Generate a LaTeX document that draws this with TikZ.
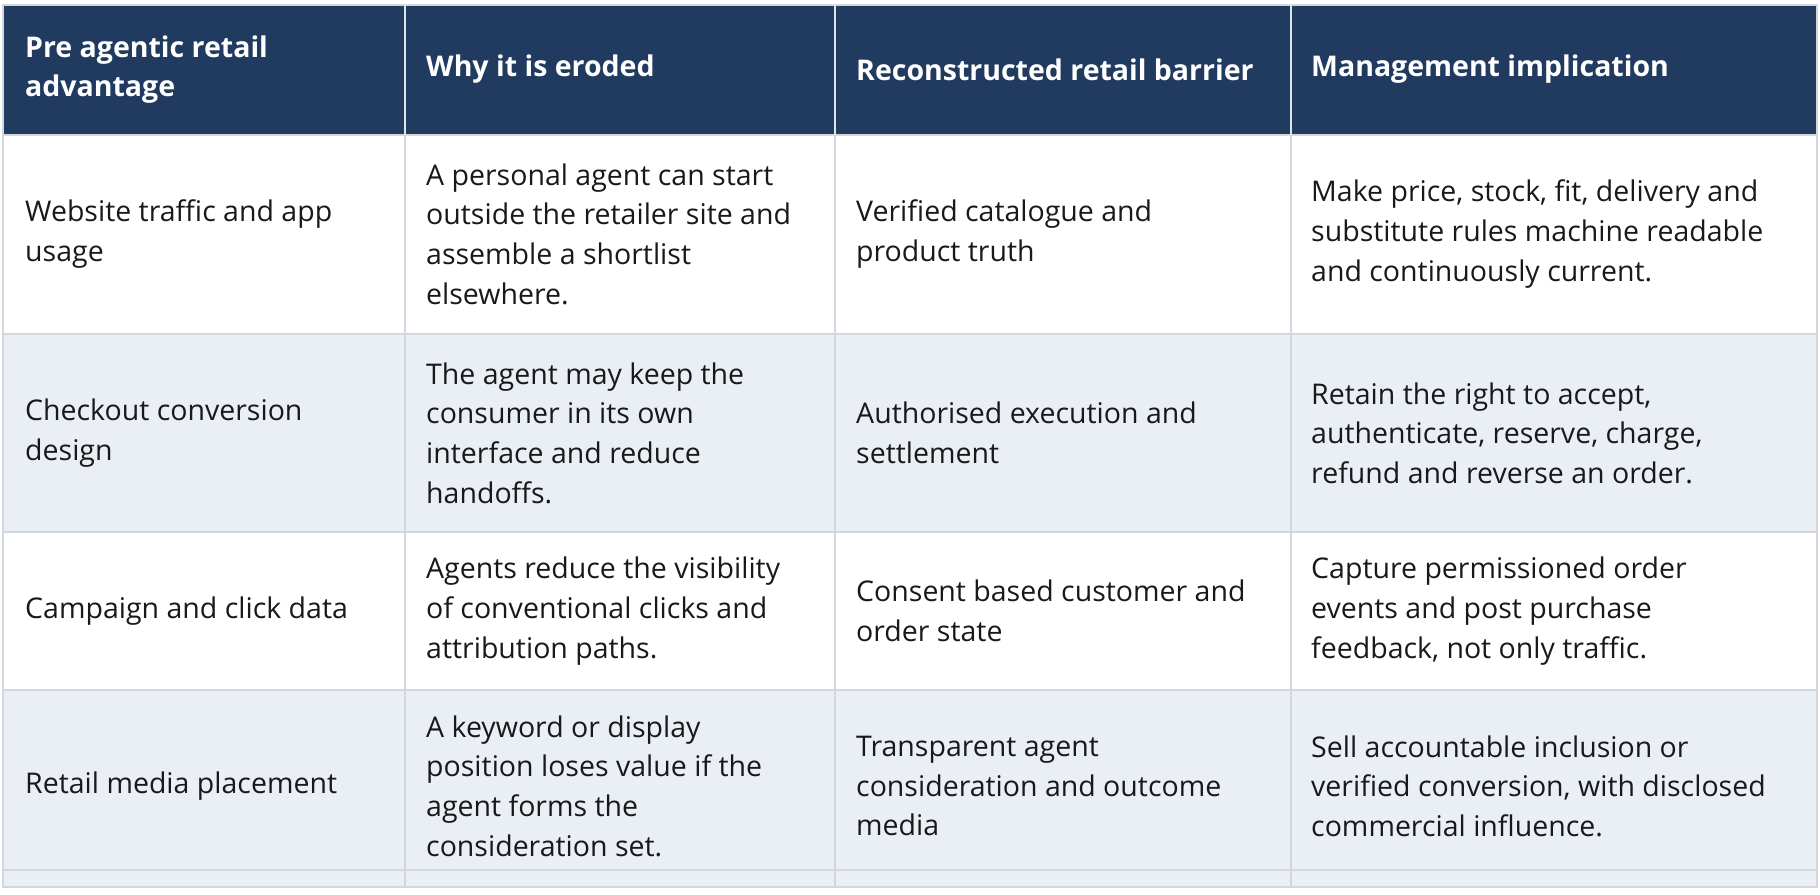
\documentclass[tikz,border=0pt]{standalone}
\usepackage{fontspec}
\setmainfont{Open Sans}
\definecolor{hdr}{HTML}{203A60}
\definecolor{alt}{HTML}{EAEFF6}
\definecolor{grid}{HTML}{D3D7DD}
\begin{document}
\begin{tikzpicture}[x=1pt,y=-1pt,
  cell/.style={anchor=west,align=left,inner sep=0pt,font=\fontsize{28.5}{39.6}\selectfont,text=black!90},
  head/.style={cell,text=white,font=\fontsize{28.5}{39.6}\selectfont\bfseries}]
\useasboundingbox (0,0) rectangle (1820,894);
\fill[hdr] (3,5) rectangle (1817,134.5);
\fill[alt] (3,333.5) rectangle (1817,532);
\fill[alt] (3,690) rectangle (1817,887);
\draw[white,line width=2pt] (3,870) -- (1817,870);
\draw[grid,line width=2pt] (3,5) rectangle (1817,887);
\foreach \y in {134.5,333.5,532,690,870} \draw[grid,line width=2pt] (3,\y) -- (1817,\y);
\foreach \x in {405,835,1291} {\draw[grid,line width=2pt] (\x,134.5) -- (\x,887); \draw[grid!70,line width=1.5pt] (\x,5) -- (\x,134.5);}
% header
\node[head] (h1) at (25,69.5) {Pre agentic retail\\advantage};
\node[head] (h2) at (426,69.5) {Why it is eroded};
\node[head] (h3) at (856,69.5) {Reconstructed retail barrier};
\node[head] (h4) at (1311,69.5) {Management implication};
% row 1
\node[cell] (a1) at (25,234) {Website traffic and app\\usage};
\node[cell] (b1) at (426,234) {A personal agent can start\\outside the retailer site and\\assemble a shortlist\\elsewhere.};
\node[cell] (c1) at (856,234) {Verified catalogue and\\product truth};
\node[cell] (d1) at (1311,234) {Make price, stock, fit, delivery and\\substitute rules machine readable\\and continuously current.};
% row 2
\node[cell] (a2) at (25,433) {Checkout conversion\\design};
\node[cell] (b2) at (426,433) {The agent may keep the\\consumer in its own\\interface and reduce\\handoffs.};
\node[cell] (c2) at (856,433) {Authorised execution and\\settlement};
\node[cell] (d2) at (1311,433) {Retain the right to accept,\\authenticate, reserve, charge,\\refund and reverse an order.};
% row 3
\node[cell] (a3) at (25,611) {Campaign and click data};
\node[cell] (b3) at (426,611) {Agents reduce the visibility\\of conventional clicks and\\attribution paths.};
\node[cell] (c3) at (856,611) {Consent based customer and\\order state};
\node[cell] (d3) at (1311,611) {Capture permissioned order\\events and post purchase\\feedback, not only traffic.};
% row 4
\node[cell] (a4) at (25,786) {Retail media placement};
\node[cell] (b4) at (426,786) {A keyword or display\\position loses value if the\\agent forms the\\consideration set.};
\node[cell] (c4) at (856,786) {Transparent agent\\consideration and outcome\\media};
\node[cell] (d4) at (1311,786) {Sell accountable inclusion or\\verified conversion, with disclosed\\commercial influence.};
\end{tikzpicture}
\end{document}
